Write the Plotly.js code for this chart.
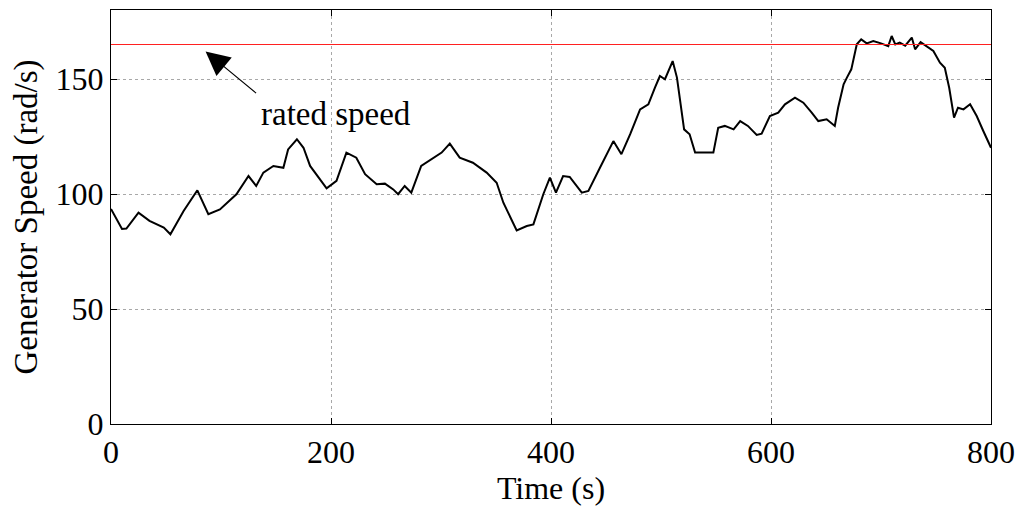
<!DOCTYPE html>
<html>
<head>
<meta charset="utf-8">
<script src="https://cdn.plot.ly/plotly-3.0.1.min.js"></script>
<style>html,body{margin:0;padding:0;background:#fff;}#chart{width:1024px;height:506px;}</style>
</head>
<body>
<div id="chart"></div>
<script>
const timeS = [0, 10, 14, 25, 35, 48, 54, 66, 78.5, 88.5,
  99, 114, 125, 132, 138.5, 147.6, 156.7, 161, 169, 175,
  181, 196, 205, 214, 223, 231, 241.5, 249, 256.6, 261,
  267, 273, 282, 293, 300.6, 308, 317, 329, 341.5, 350.6,
  356.7, 368.8, 378, 384, 393, 399, 404.5, 411, 417, 428,
  434, 444.5, 456.7, 464, 472, 481, 488.5, 494.5, 499, 503.6,
  510.6, 514.5, 517, 521, 526, 531, 538.5, 547.6, 552, 558,
  566, 572, 579, 587, 591.5, 599, 606.6, 612.7, 621.8, 629.4,
  637, 643, 650.6, 658, 661, 666, 669, 673, 678, 682,
  687, 693, 700, 706.6, 709.7, 713, 717, 722, 728, 731,
  736, 741.5, 747.6, 753.6, 758, 762, 766.4, 770, 775, 781,
  787, 793, 800];
const speed = [93.5, 84.8, 85, 91.9, 88.3, 85.4, 82.5, 92.6, 101.6, 91.2,
  93.3, 99.9, 107.8, 103.5, 109.3, 112.2, 111.4, 119.4, 123.8, 120.1,
  112.2, 102.5, 105.7, 118, 115.8, 108.6, 104.2, 104.5, 102, 99.9,
  103.5, 100.6, 112.2, 115.8, 118, 121.9, 115.8, 113.6, 109.3, 104.9,
  96.2, 84.2, 86.1, 86.8, 99.9, 107.1, 100.6, 107.8, 107.4, 100.6,
  101.3, 111.4, 123, 117.3, 126, 136.8, 139, 146.2, 151.3, 149.9,
  157.8, 150.6, 141.2, 128.1, 126, 118, 118, 118, 128.8, 129.6,
  128.1, 131.7, 129.6, 125.7, 126.2, 133.9, 135.4, 139, 141.9, 139.7,
  135.4, 131.7, 132.5, 129.6, 137.5, 147.7, 150.6, 154.2, 165.1, 167.2,
  165.5, 166.5, 165.5, 164.3, 168.7, 165, 165.8, 164.5, 168, 162.9,
  166, 164.3, 162.2, 157.1, 154.9, 146.2, 133.2, 137.5, 136.8, 139,
  133.9, 127.4, 120.1];
const ratedTime = [0, 800];
const ratedSpeed = [165, 165];
const xTicks = [0, 200, 400, 600, 800];
const yTicks = [0, 50, 100, 150];

const font = {family: '"Liberation Serif", "Times New Roman", serif', color: '#000'};
const axisCommon = {
  showline: true, linecolor: '#000', linewidth: 1, mirror: 'ticks',
  ticks: 'inside', ticklen: 6, tickcolor: '#000', tickwidth: 1,
  showgrid: true, gridcolor: '#a8a8a8', griddash: 'dot', gridwidth: 1,
  zeroline: false, tickfont: Object.assign({size: 32}, font)
};

const data = [
  {x: timeS, y: speed, type: 'scatter', mode: 'lines', line: {color: '#000', width: 2}, hoverinfo: 'none'},
  {x: ratedTime, y: ratedSpeed, type: 'scatter', mode: 'lines', line: {color: '#ff2020', width: 1.2}, hoverinfo: 'none'}
];

const layout = {
  width: 1024, height: 506,
  margin: {l: 111, r: 33, t: 10, b: 82},
  paper_bgcolor: '#fff', plot_bgcolor: '#fff',
  showlegend: false,
  font: font,
  xaxis: Object.assign({}, axisCommon, {
    range: [0, 800], tickmode: 'array', tickvals: xTicks, ticktext: xTicks.map(String),
    title: {text: 'Time (s)', font: Object.assign({size: 32}, font), standoff: 0}
  }),
  yaxis: Object.assign({}, axisCommon, {
    range: [0, 180], tickmode: 'array', tickvals: yTicks, ticktext: yTicks.map(String),
    title: {text: 'Generator Speed (rad/s)', font: Object.assign({size: 33}, font), standoff: 8}
  }),
  annotations: [
    {x: 86, y: 162, xref: 'x', yref: 'y', ax: 52, ay: 43, showarrow: true,
     arrowhead: 2, arrowsize: 4, arrowwidth: 1.2, arrowcolor: '#000', text: ''},
    {x: 204.5, y: 135, xref: 'x', yref: 'y', showarrow: false, text: 'rated speed',
     font: Object.assign({size: 33}, font)}
  ]
};

Plotly.newPlot('chart', data, layout, {staticPlot: true, displayModeBar: false});
</script>
</body>
</html>
